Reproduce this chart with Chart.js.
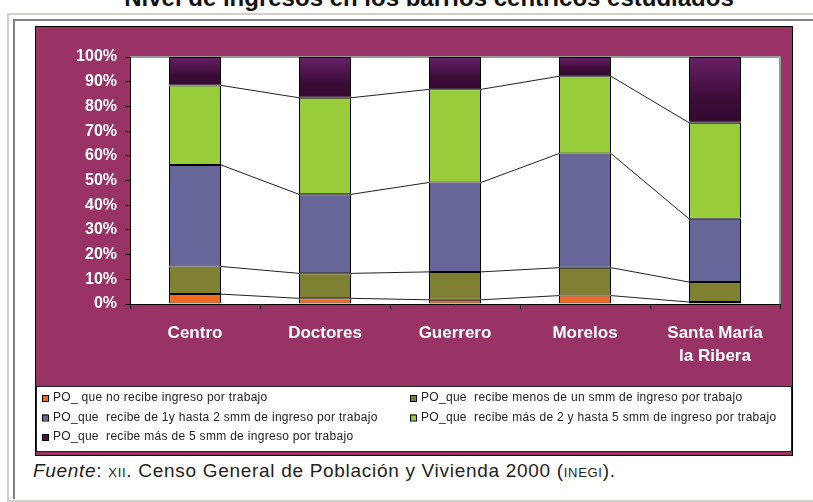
<!DOCTYPE html>
<html>
<head>
<meta charset="utf-8">
<script src="https://cdn.jsdelivr.net/npm/chart.js@4/dist/chart.umd.min.js"></script>
<style>
  html, body { margin: 0; padding: 0; background: #fff; overflow: hidden; }
  body { width: 813px; height: 502px; position: relative; font-family: Arial, "Liberation Sans", sans-serif; }
  #title { position: absolute; top: -14px; left: 0; width: 858px; text-align: center; font-weight: bold; font-size: 24px; line-height: 24px; color: #111; white-space: nowrap; }
  #frame1 { position: absolute; left: 7px; top: 13px; width: 900px; height: 485px; border: 2px solid #d4d0c8; border-right: none; }
  #frame2 { position: absolute; left: 13px; top: 19px; width: 900px; height: 478px; border-left: 2px solid #808080; border-top: 2px solid #808080; }
  #box { position: absolute; left: 35px; top: 26px; width: 756px; height: 428px; border: 1px solid #000; background: #993366; }
  #chart { display: block; }
  #src { position: absolute; left: 33px; top: 461px; font-size: 19px; line-height: 19px; letter-spacing: 0.7px; color: #222; white-space: nowrap; }
  #src .sc { font-size: 13px; }
</style>
</head>
<body>
<div id="title">Nivel de ingresos en los barrios céntricos estudiados</div>
<div id="frame1"></div>
<div id="frame2"></div>
<div id="box"><canvas id="chart" width="756" height="428"></canvas></div>
<div id="src"><i>Fuente</i>: <span class="sc">XII</span>. Censo General de Población y Vivienda 2000 (<span class="sc">INEGI</span>).</div>
<script>
// barrios y porcentaje de población ocupada por nivel de ingreso
const barrios = ['Centro', 'Doctores', 'Guerrero', 'Morelos', ['Santa María', 'la Ribera']];
const serieNames = [
  'PO_ que no recibe ingreso por trabajo',
  'PO_que  recibe menos de un smm de ingreso por trabajo',
  'PO_que  recibe de 1y hasta 2 smm de ingreso por trabajo',
  'PO_que  recibe más de 2 y hasta 5 smm de ingreso por trabajo',
  'PO_que  recibe más de 5 smm de ingreso por trabajo'
];
const sinIngreso   = [4.0, 2.3, 1.7, 3.4, 0.8];
const menosDeUno   = [11.2, 10.1, 11.3, 11.3, 8.1];
const unoADos      = [41.1, 32.0, 36.2, 46.2, 25.6];
const dosACinco    = [32.2, 39.1, 37.7, 31.3, 38.9];
const masDeCinco   = [11.5, 16.5, 13.1, 7.8, 26.6];
const yTicks = [0, 10, 20, 30, 40, 50, 60, 70, 80, 90, 100];

const colors = ['#f26a1f', '#808033', '#666699', '#99cc3a', '#4a1245'];

// dark purple top segment has a vertical gradient
function topFill(ctx) {
  const chart = ctx.chart;
  if (!chart.chartArea || ctx.type !== 'data') return colors[4];
  const y = chart.scales.y;
  const y0 = y.getPixelForValue(100);
  const y1 = y.getPixelForValue(100 - ctx.raw);
  const g = chart.ctx.createLinearGradient(0, y0, 0, y1);
  g.addColorStop(0, '#662166');
  g.addColorStop(0.65, '#3c0b38');
  g.addColorStop(1, '#330a2e');
  return g;
}

const plotBg = {
  id: 'plotBg',
  beforeDraw(chart) {
    const { ctx, chartArea: a } = chart;
    ctx.save();
    ctx.fillStyle = '#fff';
    ctx.fillRect(a.left, a.top, a.right - a.left, a.bottom - a.top);
    ctx.strokeStyle = '#999';
    ctx.lineWidth = 2;
    ctx.beginPath();
    ctx.moveTo(a.left, a.top);
    ctx.lineTo(a.right, a.top);
    ctx.lineTo(a.right, a.bottom);
    ctx.stroke();
    ctx.restore();
  }
};

// Excel style series lines between the bars
const seriesLines = {
  id: 'seriesLines',
  afterDatasetsDraw(chart) {
    const ctx = chart.ctx;
    ctx.save();
    ctx.strokeStyle = '#222';
    ctx.lineWidth = 1;
    for (let i = 0; i < 4; i++) {
      const bars = chart.getDatasetMeta(i).data;
      for (let j = 0; j < bars.length - 1; j++) {
        const a = bars[j], b = bars[j + 1];
        ctx.beginPath();
        ctx.moveTo(a.x + a.width / 2, a.y);
        ctx.lineTo(b.x - b.width / 2, b.y);
        ctx.stroke();
      }
    }
    ctx.restore();
  }
};

// two column legend in a white box at the bottom
const boxLegend = {
  id: 'boxLegend',
  afterDraw(chart) {
    const ctx = chart.ctx;
    const top = 359, h = 66;
    ctx.save();
    ctx.fillStyle = '#fff';
    ctx.fillRect(0, top, chart.width, h);
    ctx.strokeStyle = '#222';
    ctx.lineWidth = 1;
    ctx.strokeRect(0.5, top + 0.5, chart.width - 1, h - 1);
    ctx.font = '12px Arial, "Liberation Sans", sans-serif';
    ctx.letterSpacing = '0.3px';
    ctx.textBaseline = 'middle';
    chart.data.datasets.forEach((ds, i) => {
      const col = i % 2, row = Math.floor(i / 2);
      const x = col === 0 ? 6 : 374;
      const y = top + 12 + row * 19.5;
      ctx.fillStyle = colors[i];
      ctx.fillRect(x, y - 3, 6, 6);
      ctx.strokeStyle = '#000';
      ctx.strokeRect(x + 0.5, y - 2.5, 6, 6);
      ctx.fillStyle = '#222';
      ctx.fillText(ds.label, x + 11, y);
    });
    ctx.restore();
  }
};

const series = [sinIngreso, menosDeUno, unoADos, dosACinco, masDeCinco];

new Chart(document.getElementById('chart'), {
  type: 'bar',
  data: {
    labels: barrios,
    datasets: series.map((vals, i) => ({
      label: serieNames[i],
      data: vals,
      backgroundColor: i === 4 ? topFill : colors[i],
      borderColor: '#000',
      borderWidth: 1,
      borderSkipped: false,
      categoryPercentage: 1,
      barPercentage: 0.4
    }))
  },
  options: {
    responsive: false,
    devicePixelRatio: 1,
    animation: false,
    layout: { padding: { top: 30, right: 12, bottom: 0, left: 0 } },
    plugins: { legend: { display: false }, tooltip: { enabled: false } },
    scales: {
      x: {
        stacked: true,
        afterFit(s) { s.height = 151; },
        grid: { offset: true, drawOnChartArea: false, color: '#000', tickLength: 5 },
        border: { color: '#000', width: 1 },
        ticks: {
          color: '#fff',
          padding: 12,
          maxRotation: 0,
          font: { family: 'Arial, "Liberation Sans", sans-serif', size: 17, weight: 'bold', lineHeight: 1.4 }
        }
      },
      y: {
        stacked: true,
        min: 0,
        max: 100,
        afterFit(s) { s.width = 94; },
        afterBuildTicks(s) { s.ticks = yTicks.map(v => ({ value: v })); },
        grid: { drawOnChartArea: false, color: '#000', tickLength: 5 },
        border: { color: '#000', width: 1 },
        ticks: {
          color: '#fff',
          padding: 8,
          callback: v => v + '%',
          font: { family: 'Arial, "Liberation Sans", sans-serif', size: 16, weight: 'bold' }
        }
      }
    }
  },
  plugins: [plotBg, seriesLines, boxLegend]
});
</script>
</body>
</html>
